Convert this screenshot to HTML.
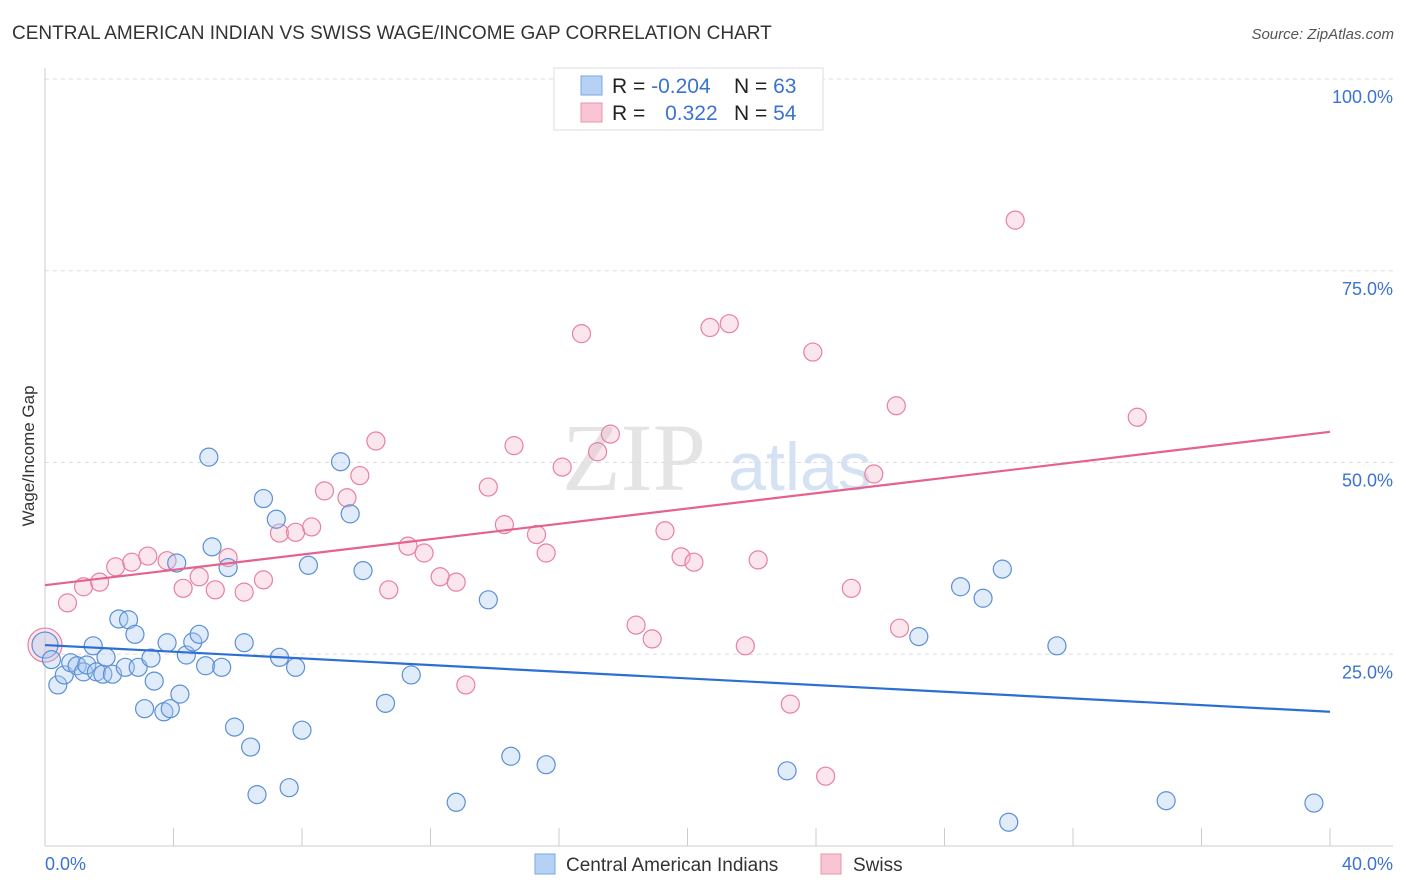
<!DOCTYPE html>
<html><head><meta charset="utf-8"><style>
body{margin:0;background:#fff;font-family:"Liberation Sans",sans-serif;}
svg{display:block}
</style></head><body>
<svg id="c" width="1406" height="892" xmlns="http://www.w3.org/2000/svg">
<text x="12" y="39" font-size="19" fill="#333">CENTRAL AMERICAN INDIAN VS SWISS WAGE/INCOME GAP CORRELATION CHART</text>
<text x="1394" y="39" font-size="15" fill="#555" font-style="italic" text-anchor="end">Source: ZipAtlas.com</text>
<text x="34" y="456" font-size="17" fill="#333" text-anchor="middle" transform="rotate(-90 34 456)">Wage/Income Gap</text>
<text x="634" y="490" font-size="96" fill="#e4e4e4" font-family="Liberation Serif,serif" text-anchor="middle">ZIP</text>
<text x="800" y="490" font-size="68" fill="#d4e2f4" text-anchor="middle">atlas</text>
<g id="grid"></g>
<g id="axes"></g>
<g id="pts"></g>
<g id="lines"></g>
<g>
<rect x="554" y="68" width="269" height="62" fill="#fff" stroke="#ddd"/>
<rect x="581" y="76" width="21" height="19" fill="#b7d1f4" stroke="#7aa6e3"/>
<rect x="581" y="103" width="21" height="19" fill="#f9c4d3" stroke="#eb93ae"/>
<text x="612" y="93" font-size="21" fill="#222">R = <tspan fill="#3b73d1">-0.204</tspan></text>
<text x="734" y="93" font-size="21" fill="#222">N = <tspan fill="#3b73d1">63</tspan></text>
<text x="612" y="120" font-size="21" fill="#222">R = <tspan fill="#3b73d1" dx="14">0.322</tspan></text>
<text x="734" y="120" font-size="21" fill="#222">N = <tspan fill="#3b73d1">54</tspan></text>
</g>
<g>
<rect x="535" y="854" width="20" height="20" fill="#b7d1f4" stroke="#7aa6e3"/>
<text x="566" y="871" font-size="19" fill="#333">Central American Indians</text>
<rect x="821" y="854" width="20" height="20" fill="#f9c4d3" stroke="#eb93ae"/>
<text x="853" y="871" font-size="19" fill="#333">Swiss</text>
</g>
</svg>
<script>
const blueX=[0.0,0.2,0.4,0.6,0.8,1.0,1.2,1.3,1.5,1.6,1.8,1.9,2.1,2.3,2.5,2.6,2.8,2.9,3.1,3.3,3.4,3.7,3.8,3.9,4.1,4.2,4.4,4.6,4.8,5.0,5.1,5.2,5.5,5.7,5.9,6.2,6.4,6.6,6.8,7.2,7.3,7.6,7.8,8.0,8.2,9.2,9.5,9.9,10.6,11.4,12.8,13.8,14.5,15.6,23.1,27.2,28.5,29.2,29.8,30.0,31.5,34.9,39.5];
const blueY=[26.2,24.3,21.0,22.3,23.9,23.5,22.7,23.6,26.1,22.7,22.4,24.6,22.4,29.6,23.3,29.5,27.6,23.3,17.9,24.5,21.5,17.5,26.5,17.9,36.9,19.8,24.9,26.6,27.6,23.5,50.7,39.0,23.3,36.3,15.5,26.5,12.9,6.7,45.3,42.6,24.6,7.6,23.3,15.1,36.6,50.1,43.3,35.9,18.6,22.3,5.7,32.1,11.7,10.6,9.8,27.3,33.8,32.3,36.1,3.1,26.1,5.9,5.6];
const pinkX=[0.0,0.7,1.2,1.7,2.2,2.7,3.2,3.8,4.3,4.8,5.3,5.7,6.2,6.8,7.3,7.8,8.3,8.7,9.4,9.8,10.3,10.7,11.3,11.8,12.3,12.8,13.1,13.8,14.3,14.6,15.3,15.6,16.1,16.7,17.2,17.6,18.4,18.9,19.3,19.8,20.2,20.7,21.3,21.8,22.2,23.2,23.9,24.3,25.1,25.8,26.5,26.6,30.2,34.0];
const pinkY=[26.2,31.7,33.8,34.4,36.4,37.0,37.8,37.2,33.6,35.1,33.4,37.6,33.1,34.7,40.8,40.9,41.6,46.3,45.4,48.3,52.8,33.4,39.1,38.2,35.1,34.4,21.0,46.8,41.9,52.2,40.6,38.2,49.4,66.8,51.4,53.7,28.8,27.0,41.1,37.7,37.0,67.6,68.1,26.1,37.3,18.5,64.4,9.1,33.6,48.5,57.4,28.4,81.6,55.9];
const blueTrend=[26.2,17.5];
const pinkTrend=[34.0,54.0];
const yTicks=[25,50,75,100];
const xTicks=[0,4,8,12,16,20,24,28,32,36,40];
const xLabels=["0.0%","40.0%"];

const NS="http://www.w3.org/2000/svg";
const X=v=>45+v*(1330-45)/40;
const Y=v=>846-v*(846-79)/100;
function mk(tag,attrs,parent){const e=document.createElementNS(NS,tag);for(const k in attrs)e.setAttribute(k,attrs[k]);parent.appendChild(e);return e;}
const grid=document.getElementById('grid'),axes=document.getElementById('axes'),pts=document.getElementById('pts'),lines=document.getElementById('lines');
yTicks.forEach(t=>{
 const l=mk('line',{x1:45,x2:1393,y1:Y(t),y2:Y(t),stroke:'#ddd','stroke-dasharray':'4,4'},grid);
 
 
 const tx=mk('text',{x:1393,y:Y(t)+24,'font-size':18,fill:'#3b73d1','text-anchor':'end'},grid);
 tx.textContent=t.toFixed(1)+'%';
 
 
});
const ya=mk('line',{x1:45,x2:45,y1:68,y2:846,stroke:'#ccc'},axes);


const xa=mk('line',{x1:45,x2:1393,y1:846,y2:846,stroke:'#ccc'},axes);


xTicks.forEach(t=>{
 const l=mk('line',{x1:X(t),x2:X(t),y1:828,y2:846,stroke:'#ccc'},axes);
 
 
});
[[0,'start',45],[40,'end',1393]].forEach((d,i)=>{
 const tx=mk('text',{x:d[2],y:870,'font-size':18,fill:'#3b73d1','text-anchor':d[1]},axes);
 tx.textContent=xLabels[i];
 
 
});
function series(xs,ys,fill,stroke,name,bigR){
 xs.forEach((x,i)=>{
  const r=(i===0)?bigR:9;
  const c=mk('circle',{cx:X(x),cy:Y(ys[i]),r:r,fill:fill,'fill-opacity':0.35,stroke:stroke,'stroke-width':1.2},pts);
  
  
 });
}
series(pinkX,pinkY,'#f5b8cb','#e8809f','swiss',17);
series(blueX,blueY,'#a9c8f0','#5b8fd6','central-american',13);
const bl=mk('line',{x1:X(0),y1:Y(blueTrend[0]),x2:X(40),y2:Y(blueTrend[1]),stroke:'#2b6fd6','stroke-width':2.2},lines);


const pl=mk('line',{x1:X(0),y1:Y(pinkTrend[0]),x2:X(40),y2:Y(pinkTrend[1]),stroke:'#e5628c','stroke-width':2.2},lines);


</script>
</body></html>
